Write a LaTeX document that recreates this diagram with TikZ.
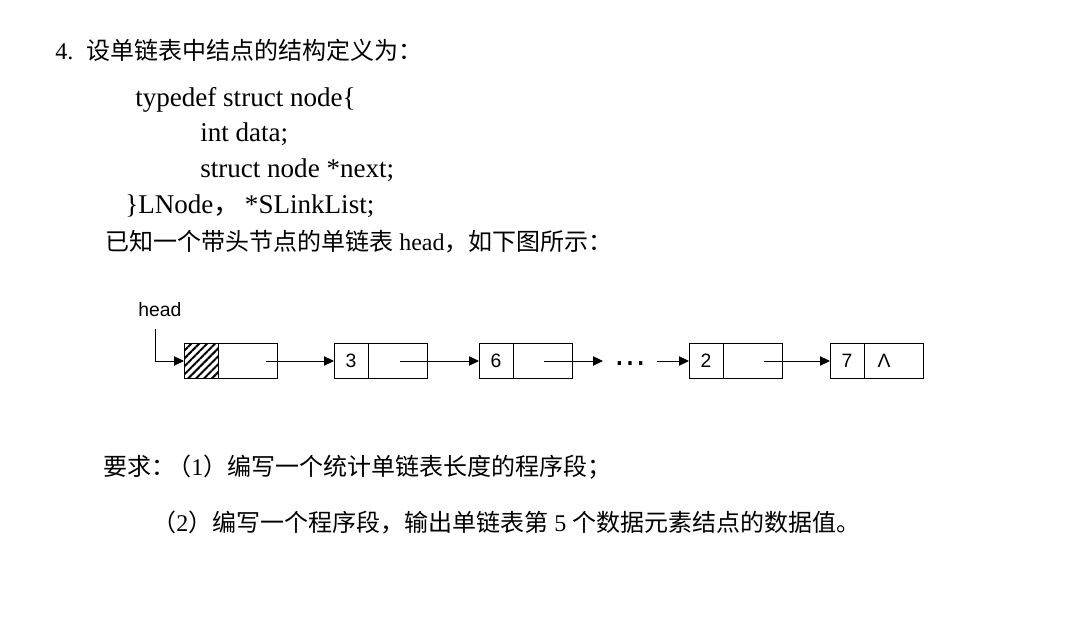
\documentclass[tikz,border=0pt]{standalone}
\usepackage{fontspec}
\setmainfont{Liberation Serif}
\setsansfont{Liberation Sans}
\newfontfamily\cjk{Noto Sans CJK SC}
\newfontfamily\dejavu{DejaVu Sans}
\usetikzlibrary{arrows.meta,patterns.meta}
\begin{document}
\begin{tikzpicture}[x=0.75pt,y=-0.75pt,
  txt/.style={anchor=base west, inner sep=0, font=\fontsize{18}{20}\selectfont},
  code/.style={anchor=base west, inner sep=0, font=\fontsize{20.3}{24}\selectfont},
  cell/.style={draw, line width=0.65pt, inner sep=0, outer sep=0, minimum height=26.25pt, font=\sffamily\fontsize{14.5}{16}\selectfont},
  dcell/.style={cell, minimum width=25.5pt, anchor=east},
  pcell/.style={cell, minimum width=44.25pt, anchor=west},
  link/.style={line width=0.65pt, -{Triangle[length=7.5pt,width=7pt]}},
  lbl/.style={inner sep=0, font=\sffamily\fontsize{14.5}{16}\selectfont},
]
\useasboundingbox (0,0) rectangle (1079,630);

% text
\node[txt] (t1) at (55,60) {4.\hspace{10pt}{\cjk 设单链表中结点的结构定义为：}};
\node[code] (k1) at (135,107) {typedef struct node\{};
\node[code] (k2) at (200,142) {int data;};
\node[code] (k3) at (200,178) {struct node *next;};
\node[code] (k4) at (125,214) {\}LNode{\cjk ，}\,*SLinkList;};
\node[txt] (t2) at (105,251) {{\cjk 已知一个带头节点的单链表}\ head{\cjk ，如下图所示：}};
\node[txt] (t3) at (103,476) {{\cjk 要求：}\hspace{-6pt}{\cjk （}1{\cjk ）编写一个统计单链表长度的程序段；}};
\node[txt] (t4) at (152,532) {{\cjk （}2{\cjk ）编写一个程序段，输出单链表第}\ 5\ {\cjk 个数据元素结点的数据值。}};

% list
\node[anchor=base west, lbl] (hl) at (138,317) {head};
\node[dcell, pattern={Lines[angle=45,distance=4.2pt,line width=1.5pt]}] (h0) at (218,361) {};
\node[pcell] (h1) at (218,361) {};
\node[dcell] (a0) at (368,361) {3};
\node[pcell] (a1) at (368,361) {};
\node[dcell] (b0) at (513,361) {6};
\node[pcell] (b1) at (513,361) {};
\node[dcell] (c0) at (723,361) {2};
\node[pcell] (c1) at (723,361) {};
\node[dcell] (e0) at (864,361) {7};
\node[pcell] (e1) at (864,361) {};
\node[lbl] (lam) at (884,361) {Λ};

\coordinate (hs) at (155,329);
\coordinate (s0) at (266,361);
\coordinate (s1) at (400,361);
\coordinate (s2) at (544,361);
\coordinate (s3) at (764,361);
\coordinate (f1) at (603,361);
\coordinate (f2) at (657,361);
\node[inner sep=0, anchor=base, font=\dejavu\fontsize{24}{26}\selectfont] (dots) at (630,374) {⋯};

\draw[link] (hs) |- (h0.west);
\draw[link] (s0) -- (a0.west);
\draw[link] (s1) -- (b0.west);
\draw[link] (s2) -- (f1);
\draw[link] (f2) -- (c0.west);
\draw[link] (s3) -- (e0.west);
\end{tikzpicture}
\end{document}
